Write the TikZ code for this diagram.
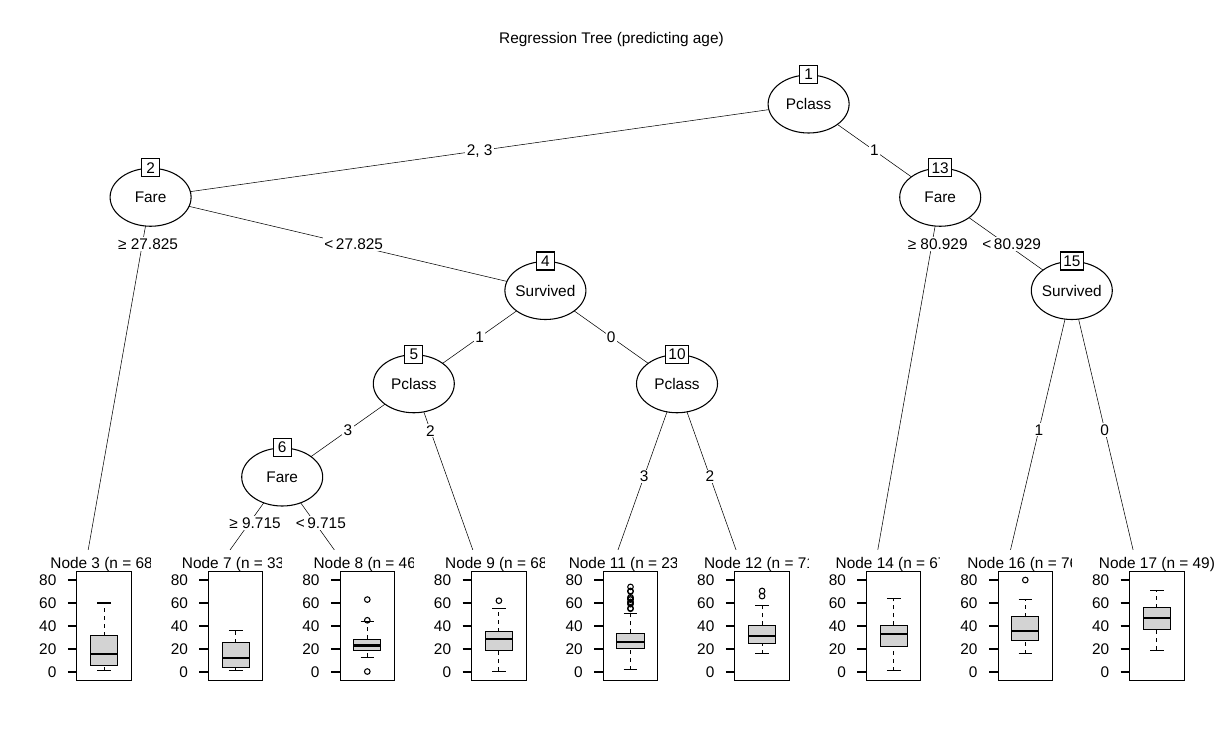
\documentclass[tikz,border=0pt]{standalone}
\usepackage{fontspec}
\setmainfont{Liberation Sans}
\usepackage{tikz}
\usetikzlibrary{shapes.geometric,backgrounds}
\definecolor{boxgray}{HTML}{D3D3D3}
% text of a split node, kept out of the ellipse size
\newcommand{\splittext}[1]{\hbox to 0pt{\hss#1\hss}}

\begin{document}
\begin{tikzpicture}[x=0.75pt,y=-0.75pt,line width=0.8pt,
    font=\fontsize{11.55pt}{13.5pt}\selectfont,
    split/.style={ellipse,draw,fill=white,inner sep=0pt,
      minimum width=60.75pt,minimum height=43.5pt},
    numbox/.style={draw,fill=white,inner xsep=2.2pt,inner ysep=0pt,
      minimum height=13.5pt,minimum width=13.5pt},
    elab/.style={fill=white,inner sep=1pt},
    rlab/.style={elab,xshift=4.3pt},
    whisk/.style={dash pattern=on 3pt off 3pt}]
  \useasboundingbox (0,0) rectangle (1223,729);

  \node (title) at (611.5,40) {Regression Tree (predicting age)};

  % split nodes
  \node[split] (n1) at (808.6,104) {\splittext{Pclass}};
  \node[split] (n2) at (150.6,197.25) {\splittext{Fare}};
  \node[split] (n13) at (940.2,197.25) {\splittext{Fare}};
  \node[split] (n4) at (545.4,290.5) {\splittext{Survived}};
  \node[split] (n15) at (1071.8,290.5) {\splittext{Survived}};
  \node[split] (n5) at (413.8,383.75) {\splittext{Pclass}};
  \node[split] (n10) at (677,383.75) {\splittext{Pclass}};
  \node[split] (n6) at (282.2,477) {\splittext{Fare}};
  \foreach \n in {1,2,4,5,6,10,13,15}
    \node[numbox] (b\n) at (n\n.north) {\n};

  % terminal panels, left to right
  \foreach \k/\pc/\nn/\lw/\qa/\md/\qb/\uw in {
      3/84.8/68/1/6/16/31.5/60,
      7/216.4/33/1/4/12/25.5/36,
      8/348.0/46/13/19/23/28.5/44,
      9/479.6/68/0.67/19/29/35/55,
      11/611.2/231/2/20.5/26/33.5/51,
      12/742.8/71/16/24.5/31/40.5/58,
      14/874.4/67/1/22.5/33/40.5/64,
      16/1006.0/76/16/27/36/48/63,
      17/1137.6/49/19/37/47/56/71}{
    \coordinate (t\k) at (\pc,569);
    \begin{scope}[shift={(\pc+19.3,672)},y=0.8625pt]
      \fill[white] (-85.1,106) rectangle (46.5,-40);
      \node[anchor=base] (lab\k) at (0,90.4) {Node \k{} (n = \nn)};
      \draw (-27.25,-7.6) rectangle (27.25,87.2);
      \foreach \a in {0,20,...,80}{
        \draw (-36.25,\a) -- (-27.25,\a);
        \node[anchor=east,inner sep=0pt] (tick\k-\a) at (-47.25,\a) {\a};
      }
      \draw[whisk] (0,\lw) -- (0,\qa) (0,\qb) -- (0,\uw);
      \draw (-6.8,\lw) -- (6.8,\lw) (-6.8,\uw) -- (6.8,\uw);
      \draw[fill=boxgray] (-13.6,\qa) rectangle (13.6,\qb);
      \draw[line width=1.6pt] (-13.6,\md) -- (13.6,\md);
    \end{scope}
  }
  % outliers
  \foreach \pc/\a in {348.0/63,348.0/45,348.0/0.42,479.6/62,
      611.2/55,611.2/55.5,611.2/59,611.2/60,611.2/61,611.2/63,611.2/64,
      611.2/65,611.2/70,611.2/70.5,611.2/74,742.8/66,742.8/70.5,1006.0/80}
    \draw (\pc+19.3,{672-1.15*\a}) circle[radius=2.1pt];

  % connectors, kept under the nodes and panels
  \begin{scope}[on background layer]
    \fill[white] (0,0) rectangle (1223,729);
    \draw (n1.center) -- node[elab,midway] (e2) {2, 3} (n2.center);
    \draw (n1.center) -- node[elab,midway] (e13) {1} (n13.center);
    \draw (n2.center) -- node[rlab,pos=0.1258] (e3) {≥ 27.825} (t3);
    \draw (n2.center) -- node[rlab,midway] (e4) {<\,27.825} (n4.center);
    \draw (n4.center) -- node[elab,midway] (e5) {1} (n5.center);
    \draw (n4.center) -- node[elab,midway] (e10) {0} (n10.center);
    \draw (n5.center) -- node[elab,midway] (e6) {3} (n6.center);
    \draw (n5.center) -- node[elab,pos=0.2532] (e9) {2} (t9);
    \draw (n6.center) -- node[rlab,midway] (e7) {≥ 9.715} (t7);
    \draw (n6.center) -- node[rlab,midway] (e8) {<\,9.715} (t8);
    \draw (n10.center) -- node[elab,midway] (e11) {3} (t11);
    \draw (n10.center) -- node[elab,midway] (e12) {2} (t12);
    \draw (n13.center) -- node[rlab,pos=0.1258] (e14) {≥ 80.929} (t14);
    \draw (n13.center) -- node[rlab,midway] (e15) {<\,80.929} (n15.center);
    \draw (n15.center) -- node[elab,midway] (e16) {1} (t16);
    \draw (n15.center) -- node[elab,midway] (e17) {0} (t17);
  \end{scope}
\end{tikzpicture}
\end{document}
